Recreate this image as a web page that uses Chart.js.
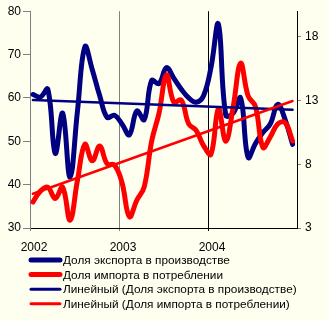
<!DOCTYPE html>
<html>
<head>
<meta charset="utf-8">
<script src="https://cdn.jsdelivr.net/npm/chart.js@4/dist/chart.umd.min.js"></script>
<style>
  html, body { margin: 0; padding: 0; background: #FFFFF0; }
  #wrap { width: 329px; height: 321px; }
</style>
</head>
<body>
<div id="wrap"><canvas id="chart" width="329" height="321"></canvas></div>
<script>
// categories / ticks
const years = ['2002', '2003', '2004'];
const yearTicks = [0, 12, 24];
const rightTicks = [3, 8, 13, 18];

// monthly values, Jan 2002 .. Dec 2004
const exportShare = [
  60.8, 60.2, 62, 47.2, 56.5, 41.7, 57, 71.8, 66.5, 60.5, 55.5, 56,
  54, 51.5, 57, 55, 64, 63.3, 67, 64.5, 62, 60, 59, 60.5,
  67, 77, 56, 56.5, 60, 46.3, 49.5, 52, 54, 58.5, 55, 49.3
];
const importShare = [
  36, 38.5, 39.4, 36.8, 39.4, 31.8, 41, 49.3, 45.5, 48.9, 44.8, 44.5,
  40.5, 32.6, 36.4, 39.5, 50, 56.5, 65.3, 59, 59.5, 54, 52.5, 49,
  47, 57.5, 50, 58, 68, 60.5, 58, 48.6, 51, 54, 54.3, 50.1
];
// linear trend end values (first month, last month)
const exportTrend = [59.5, 57.3];
const importTrend = [37.9, 59.3];

const seriesNames = [
  'Доля экспорта в производстве',
  'Доля импорта в потреблении',
  'Линейный (Доля экспорта в производстве)',
  'Линейный (Доля импорта в потреблении)'
];

const NAVY = '#000080';
const RED = '#FF0000';
const FONT = '"Liberation Sans", Arial, sans-serif';

function toPoints(values) {
  return values.map((v, i) => ({ x: i + 0.4, y: v }));
}

function trendPoints(ends, count) {
  return [{ x: 0.4, y: ends[0] }, { x: count - 1 + 0.4, y: ends[1] }];
}

const background = {
  id: 'background',
  beforeDraw(chart) {
    const ctx = chart.ctx;
    ctx.save();
    ctx.fillStyle = '#FFFFF0';
    ctx.fillRect(0, 0, chart.width, chart.height);
    ctx.restore();
  }
};

// legend as 4 stacked rows under the chart
const legendRows = {
  id: 'legendRows',
  afterDraw(chart) {
    const ctx = chart.ctx;
    ctx.save();
    ctx.font = '11.8px ' + FONT;
    ctx.textBaseline = 'middle';
    ctx.lineCap = 'round';
    chart.data.datasets.forEach((ds, i) => {
      const y = 260 + i * 14.6;
      ctx.strokeStyle = ds.borderColor;
      ctx.lineWidth = ds.legendWidth;
      ctx.beginPath();
      ctx.moveTo(31, y);
      ctx.lineTo(60, y);
      ctx.stroke();
      ctx.fillStyle = '#000';
      ctx.fillText(ds.label, 63, y + 1);
    });
    ctx.restore();
  }
};

const ctx = document.getElementById('chart');
new Chart(ctx, {
  type: 'line',
  data: {
    datasets: [
      { label: seriesNames[0], data: toPoints(exportShare), borderColor: NAVY, borderWidth: 5, legendWidth: 5, order: 4 },
      { label: seriesNames[1], data: toPoints(importShare), borderColor: RED, borderWidth: 5, legendWidth: 5, order: 3 },
      { label: seriesNames[2], data: trendPoints(exportTrend, exportShare.length), borderColor: NAVY, borderWidth: 2.5, legendWidth: 3, tension: 0, order: 2 },
      { label: seriesNames[3], data: trendPoints(importTrend, importShare.length), borderColor: RED, borderWidth: 2.5, legendWidth: 3, tension: 0, order: 1 }
    ]
  },
  options: {
    responsive: false,
    animation: false,
    layout: { padding: { top: 9, left: 0, right: 0, bottom: 69 } },
    elements: {
      point: { radius: 0 },
      line: { tension: 0.4, borderCapStyle: 'round', borderJoinStyle: 'round', fill: false }
    },
    plugins: {
      legend: { display: false },
      tooltip: { enabled: false }
    },
    scales: {
      x: {
        type: 'linear',
        min: 0,
        max: 36,
        afterBuildTicks: (scale) => { scale.ticks = yearTicks.map(v => ({ value: v })); },
        afterFit: (scale) => { scale.height = 24; },
        ticks: {
          callback: (value, index) => years[index],
          labelOffset: 4,
          padding: 9,
          maxRotation: 0,
          color: '#000',
          font: { family: FONT, size: 12 }
        },
        grid: {
          color: (c) => c.index === 2 ? '#000' : '#808080',
          tickLength: 3,
          lineWidth: 1
        },
        border: { color: '#000' }
      },
      y: {
        position: 'left',
        min: 30,
        max: 80,
        ticks: {
          stepSize: 10,
          padding: 2,
          color: '#000',
          font: { family: FONT, size: 12 }
        },
        afterFit: (scale) => { scale.width = 30; },
        grid: { drawOnChartArea: false, tickLength: 7, color: '#808080' },
        border: { color: '#808080' }
      },
      y2: {
        position: 'right',
        min: 3,
        max: 20,
        afterBuildTicks: (scale) => { scale.ticks = rightTicks.map(v => ({ value: v })); },
        afterFit: (scale) => { scale.width = 32; },
        ticks: {
          padding: 4,
          color: '#000',
          font: { family: FONT, size: 12 }
        },
        grid: { drawOnChartArea: false, tickLength: 4, color: '#808080' },
        border: { color: '#000' }
      }
    }
  },
  plugins: [background, legendRows]
});
</script>
</body>
</html>
